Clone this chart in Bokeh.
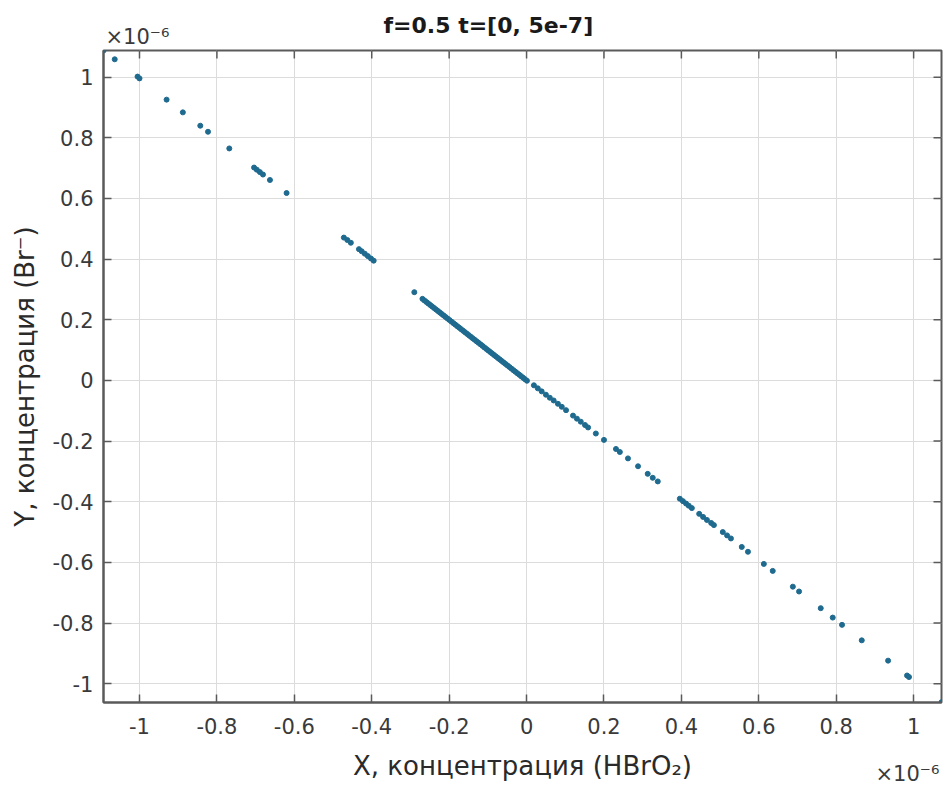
import math
from bokeh.plotting import figure
from bokeh.models import Range1d, FixedTicker, CustomJSTickFormatter, Title, LinearAxis
from bokeh.embed import file_html
from bokeh.resources import INLINE

# ---- data (units of 1e-6) ----
x_ticks = [-1, -0.8, -0.6, -0.4, -0.2, 0, 0.2, 0.4, 0.6, 0.8, 1]
y_ticks = [-1, -0.8, -0.6, -0.4, -0.2, 0, 0.2, 0.4, 0.6, 0.8, 1]

x_upper = [-1.093, -1.064, -1.005, -1.000, -0.930, -0.888, -0.843, -0.823, -0.768,
           -0.704, -0.697, -0.689, -0.681, -0.663, -0.620,
           -0.472, -0.463, -0.454, -0.433, -0.426, -0.418, -0.410, -0.402, -0.395,
           -0.290]
y_upper = [1.088, 1.059, 1.002, 0.996, 0.926, 0.884, 0.840, 0.820, 0.765,
           0.702, 0.695, 0.687, 0.679, 0.661, 0.618,
           0.471, 0.463, 0.454, 0.433, 0.426, 0.418, 0.410, 0.402, 0.395,
           0.291]

x_dense = [-0.269, -0.264, -0.259, -0.254, -0.249, -0.244, -0.239, -0.234, -0.229, -0.224,
           -0.219, -0.214, -0.209, -0.204, -0.199, -0.194, -0.189, -0.184, -0.179, -0.174,
           -0.169, -0.164, -0.159, -0.154, -0.149, -0.144, -0.139, -0.134, -0.129, -0.124,
           -0.119, -0.114, -0.109, -0.104, -0.099, -0.094, -0.089, -0.084, -0.079, -0.074,
           -0.069, -0.064, -0.059, -0.054, -0.049, -0.044, -0.039, -0.034, -0.029, -0.024,
           -0.019, -0.014, -0.009, -0.004, 0.001]
y_dense = [0.269, 0.264, 0.259, 0.254, 0.249, 0.244, 0.239, 0.234, 0.229, 0.224,
           0.219, 0.214, 0.209, 0.204, 0.199, 0.194, 0.189, 0.184, 0.179, 0.174,
           0.169, 0.164, 0.159, 0.154, 0.149, 0.144, 0.139, 0.134, 0.129, 0.124,
           0.119, 0.114, 0.109, 0.104, 0.099, 0.094, 0.089, 0.084, 0.079, 0.074,
           0.069, 0.064, 0.059, 0.054, 0.049, 0.044, 0.039, 0.034, 0.029, 0.024,
           0.019, 0.014, 0.009, 0.004, -0.001]

x_lower = [0.019, 0.029, 0.039, 0.050, 0.060, 0.070, 0.081, 0.091, 0.102,
           0.120, 0.130, 0.140, 0.151, 0.159, 0.179, 0.200, 0.231, 0.241, 0.262, 0.288,
           0.313, 0.326, 0.339, 0.396, 0.404, 0.412, 0.419, 0.427,
           0.446, 0.456, 0.466, 0.477, 0.484, 0.507, 0.518, 0.528, 0.556, 0.572,
           0.613, 0.636, 0.688, 0.704, 0.760, 0.791, 0.815, 0.866, 0.934, 0.983, 0.988, 1.072]
y_lower = [-0.016, -0.026, -0.036, -0.047, -0.057, -0.066, -0.077, -0.087, -0.098,
           -0.116, -0.126, -0.136, -0.147, -0.155, -0.175, -0.196, -0.226, -0.236, -0.257, -0.283,
           -0.308, -0.321, -0.333, -0.390, -0.398, -0.406, -0.413, -0.421,
           -0.440, -0.450, -0.460, -0.470, -0.477, -0.500, -0.511, -0.521, -0.549, -0.565,
           -0.605, -0.628, -0.680, -0.696, -0.751, -0.782, -0.806, -0.857, -0.924, -0.973, -0.978, -1.061]

x_vals = x_upper + x_dense + x_lower
y_vals = y_upper + y_dense + y_lower

title_text = "f=0.5 t=[0, 5e-7]"
x_label = "X, концентрация (HBrO₂)"
y_label = "Y, концентрация (Br⁻)"
multiplier = "×10⁻⁶"
mult_x_anchor = [0.984]   # where the lower exponent label sits along the x axis

FONT = "DejaVu Sans"
AX = "#5a5a5a"
TXT = "#3a3a3a"
DOT = "#1f6a8f"

p = figure(width=945, height=796, output_backend="svg", toolbar_location=None,
           x_range=Range1d(-1.093, 1.072), y_range=Range1d(-1.062, 1.088),
           min_border_left=103, min_border_right=4, min_border_top=50, min_border_bottom=94,
           x_axis_label=x_label, y_axis_label=y_label)

p.background_fill_color = "white"
p.border_fill_color = "white"
p.outline_line_color = AX
p.outline_line_width = 2

p.title.text = title_text
p.title.align = "left"
p.title.offset = 280
p.title.text_font = FONT
p.title.text_font_style = "bold"
p.title.text_font_size = "22px"
p.title.text_color = "#1a1a1a"
p.title.vertical_align = "bottom"
p.title.standoff = -26

fmt = CustomJSTickFormatter(code="return (Math.round(tick*10)/10).toString();")


def style_axis(ax, ticks, standoff):
    ax.ticker = FixedTicker(ticks=ticks)
    ax.formatter = fmt
    ax.axis_line_color = AX
    ax.axis_line_width = 2
    ax.major_tick_line_color = AX
    ax.major_tick_line_width = 1.5
    ax.major_tick_in = 8
    ax.major_tick_out = 0
    ax.minor_tick_line_color = None
    ax.major_label_text_font = FONT
    ax.major_label_text_color = TXT
    ax.major_label_standoff = standoff
    ax.major_label_text_font_size = "21px"
    ax.axis_label_text_font = FONT
    ax.axis_label_text_font_style = "normal"
    ax.axis_label_text_font_size = "26px"
    ax.axis_label_text_color = "#2a2a2a"


style_axis(p.xaxis[0], x_ticks, standoff=15)
p.xaxis[0].axis_label_standoff = 14
style_axis(p.yaxis[0], y_ticks, standoff=10)
p.yaxis[0].axis_label_standoff = 10

p.xgrid.ticker = FixedTicker(ticks=x_ticks)
p.ygrid.ticker = FixedTicker(ticks=y_ticks)
for g in (p.xgrid[0], p.ygrid[0]):
    g.grid_line_color = "#dcdcdc"
    g.grid_line_width = 1

# inward ticks on the top and right edges of the box (MATLAB "box on")
p.ray(x=x_ticks, y=[p.y_range.end] * len(x_ticks), length=8, length_units="screen",
      angle=-math.pi / 2, line_color=AX, line_width=1.5)
p.ray(x=[p.x_range.end] * len(y_ticks), y=y_ticks, length=8, length_units="screen",
      angle=math.pi, line_color=AX, line_width=1.5)

p.scatter(x_vals, y_vals, size=5, fill_color=DOT, line_color=DOT, marker="circle")

# upper exponent multiplier: side-panel title (side panels are not clipped to the frame)
top_mult = Title(text=multiplier, align="left", offset=2, text_font=FONT,
                 text_font_size="21px", text_font_style="normal", text_color=TXT,
                 standoff=0, vertical_align="top")
p.add_layout(top_mult, "above")

# lower exponent multiplier: a bare extra x axis whose single tick label is the multiplier
mult_axis = LinearAxis(ticker=FixedTicker(ticks=mult_x_anchor),
                       formatter=CustomJSTickFormatter(args=dict(s=multiplier), code="return s;"),
                       axis_line_color=None, major_tick_line_color=None,
                       minor_tick_line_color=None, major_tick_in=0, major_tick_out=0,
                       major_label_standoff=-22, major_label_text_font=FONT,
                       major_label_text_font_size="21px", major_label_text_color=TXT)
p.add_layout(mult_axis, "below")

open("out.html", "w").write(file_html(p, INLINE))
